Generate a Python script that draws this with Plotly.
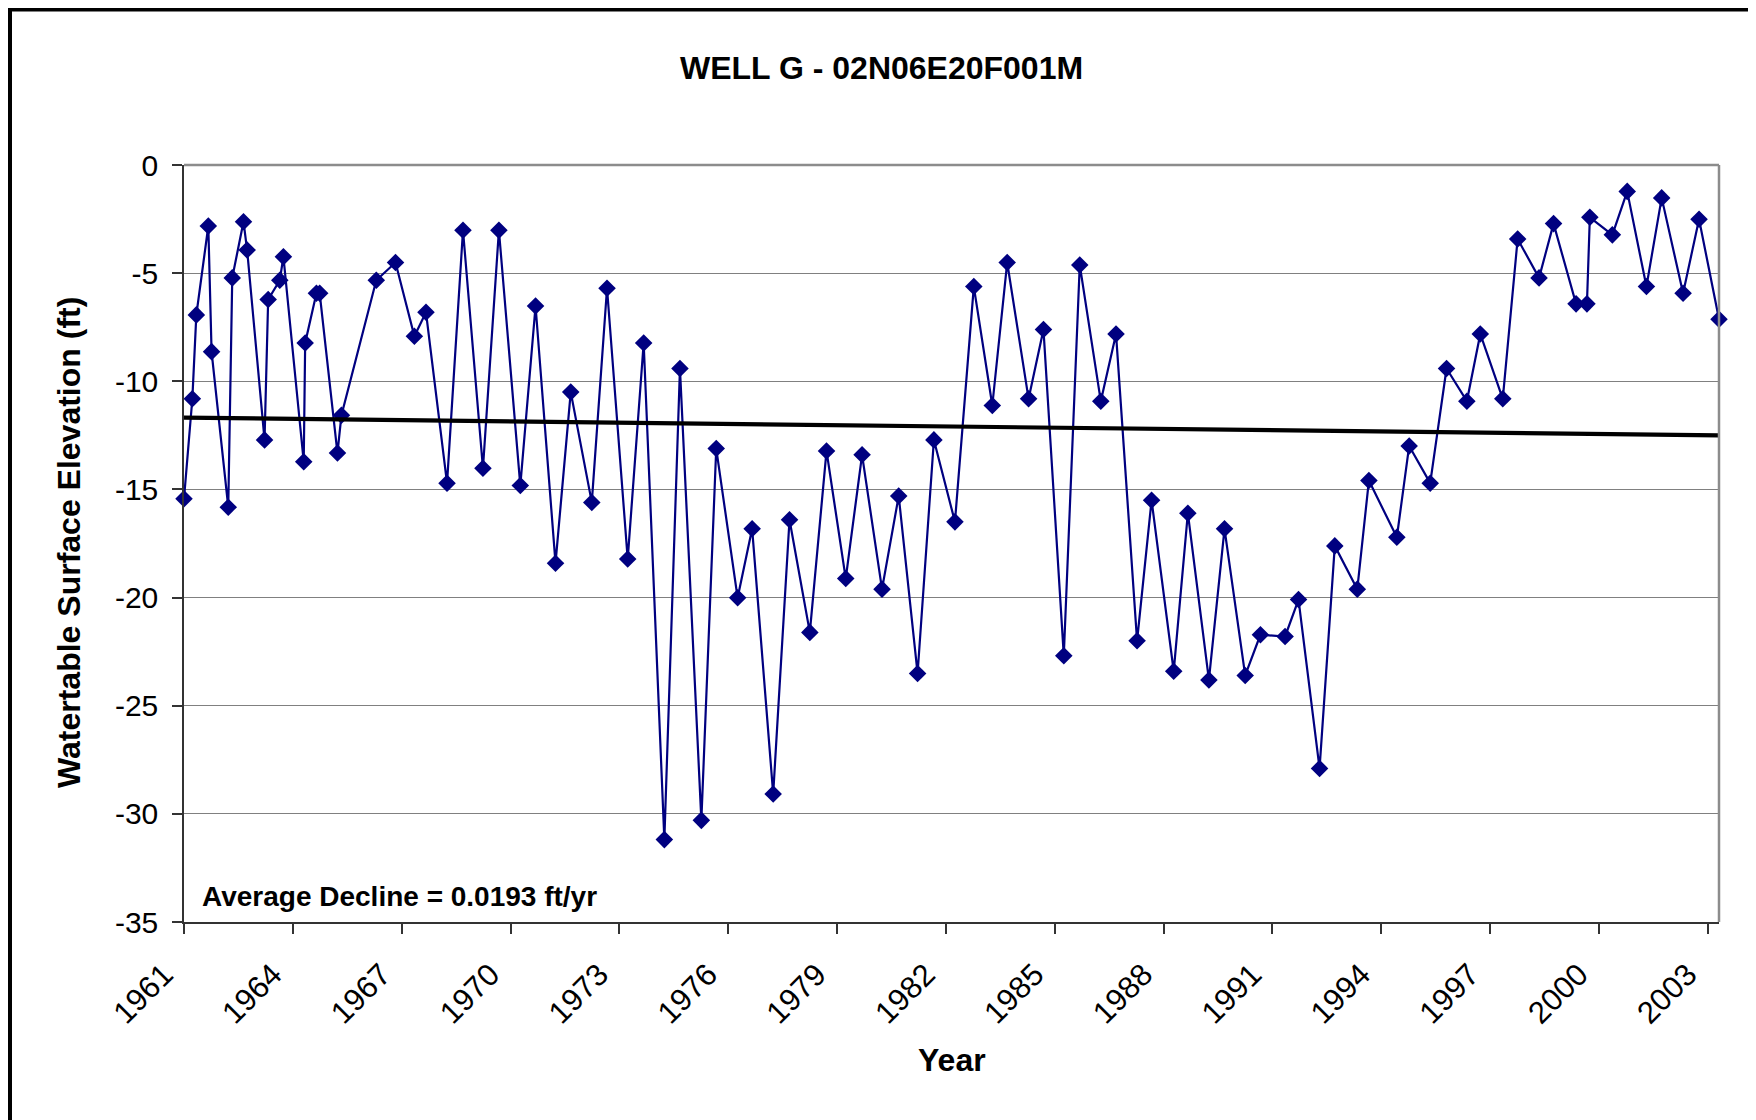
import plotly.graph_objects as go

# ---- data ----
years = [1961.00, 1961.23, 1961.34, 1961.67, 1961.76, 1962.22, 1962.33, 1962.64, 1962.74, 1963.22,
         1963.32, 1963.64, 1963.74, 1964.30, 1964.34, 1964.65, 1964.74, 1965.23, 1965.34, 1966.30,
         1966.83, 1967.35, 1967.67, 1968.25, 1968.69, 1969.24, 1969.68, 1970.27, 1970.69, 1971.24,
         1971.66, 1972.24, 1972.66, 1973.23, 1973.67, 1974.24, 1974.67, 1975.26, 1975.67, 1976.26,
         1976.66, 1977.24, 1977.69, 1978.25, 1978.71, 1979.24, 1979.69, 1980.24, 1980.70, 1981.22,
         1981.67, 1982.25, 1982.77, 1983.28, 1983.69, 1984.28, 1984.69, 1985.25, 1985.69, 1986.27,
         1986.69, 1987.27, 1987.67, 1988.28, 1988.67, 1989.25, 1989.68, 1990.25, 1990.67, 1991.35,
         1991.72, 1992.30, 1992.72, 1993.34, 1993.66, 1994.43, 1994.77, 1995.35, 1995.80, 1996.36,
         1996.73, 1997.35, 1997.76, 1998.35, 1998.75, 1999.37, 1999.67, 1999.75, 2000.37, 2000.78,
         2001.31, 2001.73, 2002.32, 2002.76, 2003.31]

elevation = [-15.43, -10.81, -6.93, -2.82, -8.63, -15.82, -5.22, -2.62, -3.93, -12.71,
             -6.22, -5.33, -4.24, -13.72, -8.23, -5.93, -5.93, -13.32, -11.57, -5.33,
             -4.51, -7.92, -6.81, -14.71, -3.02, -14.02, -3.02, -14.82, -6.52, -18.41,
             -10.50, -15.60, -5.70, -18.22, -8.23, -31.19, -9.41, -30.30, -13.11, -20.01,
             -16.82, -29.08, -16.40, -21.61, -13.22, -19.12, -13.40, -19.61, -15.30, -23.51,
             -12.71, -16.50, -5.62, -11.12, -4.51, -10.81, -7.61, -22.69, -4.62, -10.92,
             -7.81, -22.00, -15.50, -23.41, -16.10, -23.81, -16.82, -23.60, -21.72, -21.80,
             -20.09, -27.90, -17.61, -19.61, -14.59, -17.21, -12.99, -14.71, -9.41, -10.92,
             -7.81, -10.81, -3.42, -5.22, -2.71, -6.42, -6.42, -2.42, -3.23, -1.22,
             -5.62, -1.52, -5.93, -2.51, -7.13]

trend_years = [1961.00, 2003.31]
trend_values = [-11.68, -12.50]

x_tick_vals = [1961, 1964, 1967, 1970, 1973, 1976, 1979, 1982, 1985, 1988, 1991, 1994, 1997, 2000, 2003]
x_tick_text = [str(v) for v in x_tick_vals]
y_tick_vals = [0, -5, -10, -15, -20, -25, -30, -35]
y_tick_text = ["0", "-5", "-10", "-15", "-20", "-25", "-30", "-35"]

title_text = "WELL G - 02N06E20F001M"
x_title = "Year"
y_title = "Watertable Surface Elevation (ft)"
note_text = "Average Decline = 0.0193 ft/yr"

FONT = "Liberation Sans, Arial, Helvetica, sans-serif"
OFF = 8  # default page body margin
W, H = 1748, 1112
L, T = 184 - OFF, 165 - OFF
PW, PH = 1535, 757
R, B = W - L - PW, H - T - PH


def px_x(px):  # page pixel -> paper x
    return (px - OFF - L) / PW


def px_y(py):  # page pixel -> paper y
    return (T + PH - (py - OFF)) / PH


fig = go.Figure()
fig.add_trace(go.Scatter(
    x=years, y=elevation, mode="lines+markers",
    line=dict(color="#000080", width=2.2),
    marker=dict(symbol="diamond", size=13.5, color="#000080"),
    showlegend=False, cliponaxis=False,
))
fig.add_trace(go.Scatter(
    x=trend_years, y=trend_values, mode="lines",
    line=dict(color="black", width=4.2),
    showlegend=False,
))

fig.update_layout(
    width=W, height=H,
    margin=dict(l=L, r=R, t=T, b=B),
    paper_bgcolor="white", plot_bgcolor="white",
    font=dict(family=FONT, color="black"),
    xaxis=dict(
        range=[years[0], years[-1]],
        tickmode="array", tickvals=x_tick_vals, ticktext=x_tick_text,
        tickangle=-45, tickfont=dict(size=31, family=FONT, color="black"),
        ticklabelshift=-20, ticklabelstandoff=10,
        ticks="outside", ticklen=10, tickwidth=1.5, tickcolor="#333333",
        showline=True, linecolor="#333333", linewidth=2,
        showgrid=False, zeroline=False,
    ),
    yaxis=dict(
        range=[-35, 0],
        tickmode="array", tickvals=y_tick_vals, ticktext=y_tick_text,
        tickfont=dict(size=30, family=FONT, color="black"),
        ticklabelstandoff=8,
        ticks="outside", ticklen=10, tickwidth=1.5, tickcolor="#333333",
        showline=True, linecolor="#333333", linewidth=1.5,
        showgrid=True, gridcolor="#808080", gridwidth=1,
        zeroline=False,
    ),
    shapes=[
        # top and right plot-area border (gray)
        dict(type="line", xref="paper", yref="paper", x0=0, x1=1, y0=1, y1=1,
             line=dict(color="#8c8c8c", width=2.5)),
        dict(type="line", xref="paper", yref="paper", x0=1, x1=1, y0=0, y1=1,
             line=dict(color="#8c8c8c", width=2.5)),
        # outer chart frame (black)
        dict(type="rect", xref="paper", yref="paper",
             x0=px_x(9.5), x1=px_x(1753.5), y0=px_y(1160), y1=px_y(9),
             line=dict(color="black", width=5), fillcolor="rgba(0,0,0,0)", layer="above"),
    ],
    annotations=[
        dict(text=title_text, xref="paper", yref="paper", x=px_x(881), y=px_y(68),
             xanchor="center", yanchor="middle", showarrow=False,
             font=dict(size=32, family=FONT, color="black", weight="bold")),
        dict(text=x_title, xref="paper", yref="paper", x=px_x(952), y=px_y(1060),
             xanchor="center", yanchor="middle", showarrow=False,
             font=dict(size=32, family=FONT, color="black", weight="bold")),
        dict(text=y_title, xref="paper", yref="paper", x=px_x(69), y=px_y(543),
             xanchor="center", yanchor="middle", showarrow=False, textangle=-90,
             font=dict(size=32, family=FONT, color="black", weight="bold")),
        dict(text=note_text, xref="paper", yref="paper", x=px_x(200), y=px_y(896),
             xanchor="left", yanchor="middle", showarrow=False,
             font=dict(size=28, family=FONT, color="black", weight="bold")),
    ],
)

fig.write_html("out.html")
